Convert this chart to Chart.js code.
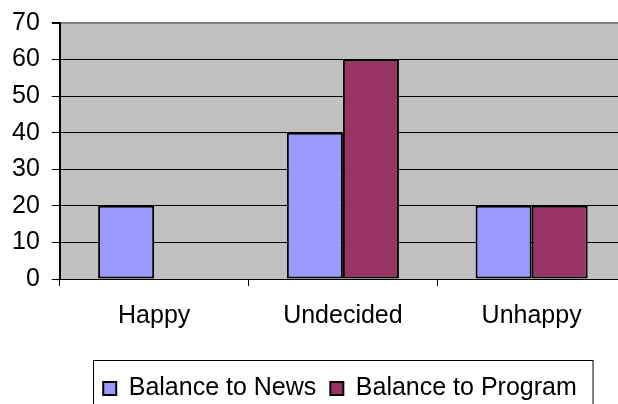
<!DOCTYPE html>
<html>
<head>
<meta charset="utf-8">
<script src="https://cdn.jsdelivr.net/npm/chart.js@4.4.0/dist/chart.umd.min.js"></script>
<style>
  html, body { margin: 0; padding: 0; background: #fff; overflow: hidden; }
  #wrap { width: 618px; height: 404px; overflow: hidden; }
</style>
</head>
<body>
<div id="wrap"><canvas id="chart" width="632" height="411"></canvas></div>
<script>
const categories = ["Happy", "Undecided", "Unhappy"];
const newsValues = [20, 40, 20];
const programValues = [0, 60, 20];
const seriesNames = ["Balance to News", "Balance to Program"];

const FONT = "'Liberation Sans', Arial, sans-serif";

// grey plot background
const plotBg = {
  id: "plotBg",
  beforeDraw(chart) {
    const { ctx, chartArea: a } = chart;
    ctx.save();
    ctx.fillStyle = "#c0c0c0";
    ctx.fillRect(a.left, a.top, a.right - a.left, a.bottom - a.top);
    ctx.restore();
  }
};

// move legend to the right spot and put a frame round it
const legendFrame = {
  id: "legendFrame",
  afterLayout(chart) {
    const lg = chart.legend;
    const dx = 27;
    lg.left += dx;
    lg.right += dx;
  },
  afterDraw(chart) {
    const boxes = chart.legend.legendHitBoxes;
    if (!boxes || !boxes.length) return;
    const l = Math.min(...boxes.map(b => b.left)) - 10;
    const r = Math.max(...boxes.map(b => b.left + b.width)) + 16;
    const t = boxes[0].top - 16;
    const ctx = chart.ctx;
    ctx.save();
    ctx.strokeStyle = "#000";
    ctx.lineWidth = 1;
    ctx.strokeRect(Math.round(l) + 0.5, Math.round(t) + 0.5, r - l, 60);
    ctx.restore();
  }
};

new Chart(document.getElementById("chart").getContext("2d"), {
  type: "bar",
  data: {
    labels: categories,
    datasets: [
      {
        label: seriesNames[0],
        data: newsValues,
        backgroundColor: "#9999ff",
        borderColor: "#000",
        borderWidth: 2,
        borderSkipped: false,
        categoryPercentage: 0.594,
        barPercentage: 1
      },
      {
        label: seriesNames[1],
        data: programValues,
        backgroundColor: "#993366",
        borderColor: "#000",
        borderWidth: 2,
        borderSkipped: false,
        categoryPercentage: 0.594,
        barPercentage: 1
      }
    ]
  },
  options: {
    responsive: false,
    animation: false,
    layout: { padding: { left: 0, top: 4, right: 6, bottom: 0 } },
    scales: {
      x: {
        grid: {
          offset: true,
          drawOnChartArea: false,
          drawTicks: true,
          tickLength: 7,
          color: "#000"
        },
        border: { color: "#000", width: 1 },
        ticks: {
          color: "#000",
          padding: 15,
          font: { family: FONT, size: 25 }
        },
        afterFit(scale) {
          scale.height += 16;
        }
      },
      y: {
        min: 0,
        max: 70,
        ticks: {
          stepSize: 10,
          color: "#000",
          padding: 12,
          font: { family: FONT, size: 25, lineHeight: 0.88 }
        },
        grid: {
          color: (c) => (c.tick && c.tick.value === 70 ? "#808080" : "#000"),
          lineWidth: (c) => (c.tick && c.tick.value === 70 ? 2 : 1),
          tickLength: 8,
          tickColor: "#000"
        },
        border: { color: "#000", width: 2 }
      }
    },
    plugins: {
      legend: {
        position: "bottom",
        labels: {
          color: "#000",
          boxWidth: 13,
          boxHeight: 13,
          padding: 14,
          font: { family: FONT, size: 25 }
        }
      },
      tooltip: { enabled: false }
    }
  },
  plugins: [plotBg, legendFrame]
});
</script>
</body>
</html>
